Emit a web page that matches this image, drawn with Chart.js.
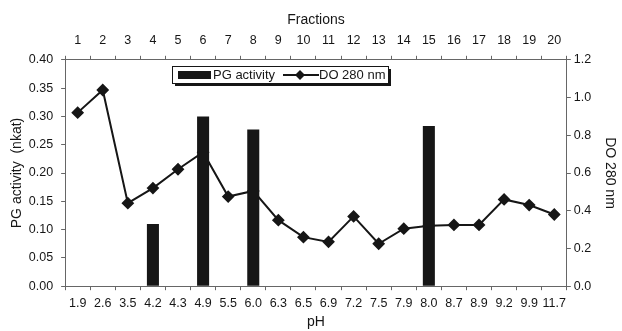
<!DOCTYPE html>
<html>
<head>
<meta charset="utf-8">
<script src="https://cdn.jsdelivr.net/npm/chart.js@4.4.0/dist/chart.umd.min.js"></script>
<style>
  html, body { margin: 0; padding: 0; background: #fff; }
  #wrap { width: 622px; height: 331px; }
</style>
</head>
<body>
<div id="wrap"><canvas id="chart"></canvas></div>
<script>
const phLabels = ["1.9", "2.6", "3.5", "4.2", "4.3", "4.9", "5.5", "6.0", "6.3", "6.5",
  "6.9", "7.2", "7.5", "7.9", "8.0", "8.7", "8.9", "9.2", "9.9", "11.7"];
const fractions = ["1", "2", "3", "4", "5", "6", "7", "8", "9", "10",
  "11", "12", "13", "14", "15", "16", "17", "18", "19", "20"];
const pgActivity = [null, null, null, 0.11, null, 0.30, null, 0.277, null, null,
  null, null, null, null, 0.283, null, null, null, null, null];
const do280 = [0.92, 1.04, 0.44, 0.52, 0.62, 0.71, 0.475, 0.505, 0.35, 0.26,
  0.235, 0.37, 0.225, 0.305, 0.32, 0.325, 0.325, 0.46, 0.43, 0.38];

const font = "'Liberation Sans', Arial, sans-serif";
const ink = "#161616";
const axisGrey = "#666";

// legend drawn inside the plot, with a drop shadow like the original
const boxLegend = {
  id: "boxLegend",
  afterDraw(chart) {
    const ctx = chart.ctx;
    const x = 172, y = 66, w = 216, h = 17;
    ctx.save();
    ctx.fillStyle = ink;
    ctx.fillRect(x + 3, y + 3, w, h);
    ctx.fillStyle = "#fff";
    ctx.fillRect(x, y, w, h);
    ctx.strokeStyle = ink;
    ctx.lineWidth = 1;
    ctx.strokeRect(x + 0.5, y + 0.5, w, h);

    ctx.fillStyle = ink;
    ctx.fillRect(x + 6, y + 5, 33, 8);
    ctx.font = "13px " + font;
    ctx.textBaseline = "middle";
    ctx.fillText(chart.data.datasets[0].label, x + 41, y + 9.5);

    ctx.strokeStyle = ink;
    ctx.lineWidth = 2;
    ctx.beginPath();
    ctx.moveTo(x + 111, y + 9);
    ctx.lineTo(x + 147, y + 9);
    ctx.stroke();
    ctx.beginPath();
    const cx = x + 128, cy = y + 9;
    ctx.moveTo(cx, cy - 5);
    ctx.lineTo(cx + 5, cy);
    ctx.lineTo(cx, cy + 5);
    ctx.lineTo(cx - 5, cy);
    ctx.closePath();
    ctx.fill();
    ctx.fillText(chart.data.datasets[1].label, x + 147, y + 9.5);
    ctx.restore();
  }
};

const tickFont = { family: font, size: 12.5 };
const titleFont = { family: font, size: 14 };

new Chart(document.querySelector("#chart"), {
  data: {
    labels: phLabels,
    datasets: [
      {
        type: "bar",
        label: "PG activity",
        data: pgActivity,
        backgroundColor: ink,
        barPercentage: 0.48,
        categoryPercentage: 1,
        xAxisID: "x",
        yAxisID: "y",
      },
      {
        type: "line",
        label: "DO 280 nm",
        data: do280,
        borderColor: ink,
        backgroundColor: ink,
        borderWidth: 2,
        pointStyle: "rectRot",
        pointRadius: 5,
        tension: 0,
        xAxisID: "x",
        yAxisID: "y1",
      },
    ],
  },
  options: {
    responsive: true,
    maintainAspectRatio: false,
    animation: false,
    layout: { padding: { left: 9, right: 0, top: 12, bottom: 0 } },
    plugins: {
      legend: { display: false },
      tooltip: { enabled: false },
    },
    scales: {
      x: {
        type: "category",
        position: "bottom",
        offset: true,
        grid: { offset: true, drawOnChartArea: false, tickLength: 4, color: axisGrey },
        border: { color: axisGrey },
        ticks: { font: tickFont, color: ink, maxRotation: 0, autoSkip: false, padding: 6 },
        title: { display: true, text: "pH", font: titleFont, color: ink, padding: { top: -3, bottom: 0 } },
      },
      x2: {
        type: "category",
        position: "top",
        labels: fractions,
        offset: true,
        grid: { offset: true, drawOnChartArea: false, tickLength: 4, color: axisGrey },
        border: { color: axisGrey },
        ticks: { font: tickFont, color: ink, maxRotation: 0, autoSkip: false, padding: 8 },
        title: { display: true, text: "Fractions", font: titleFont, color: ink, padding: { top: 0, bottom: -4 } },
      },
      y: {
        position: "left",
        min: 0,
        max: 0.4,
        ticks: {
          stepSize: 0.05,
          font: tickFont,
          color: ink,
          padding: 8,
          callback: (v) => v.toFixed(2),
        },
        grid: { drawOnChartArea: false, tickLength: 4, color: axisGrey },
        border: { color: axisGrey },
        title: { display: true, text: "PG activity  (nkat)", font: titleFont, color: ink, padding: { top: 0, bottom: -5 } },
      },
      y1: {
        position: "right",
        min: 0,
        max: 1.2,
        ticks: {
          stepSize: 0.2,
          font: tickFont,
          color: ink,
          padding: 3,
          callback: (v) => v.toFixed(1),
        },
        grid: { drawOnChartArea: false, tickLength: 4, color: axisGrey },
        border: { color: axisGrey },
        title: { display: true, text: "DO 280 nm", font: titleFont, color: ink, padding: { top: 4, bottom: 7 } },
      },
    },
  },
  plugins: [boxLegend],
});
</script>
</body>
</html>
